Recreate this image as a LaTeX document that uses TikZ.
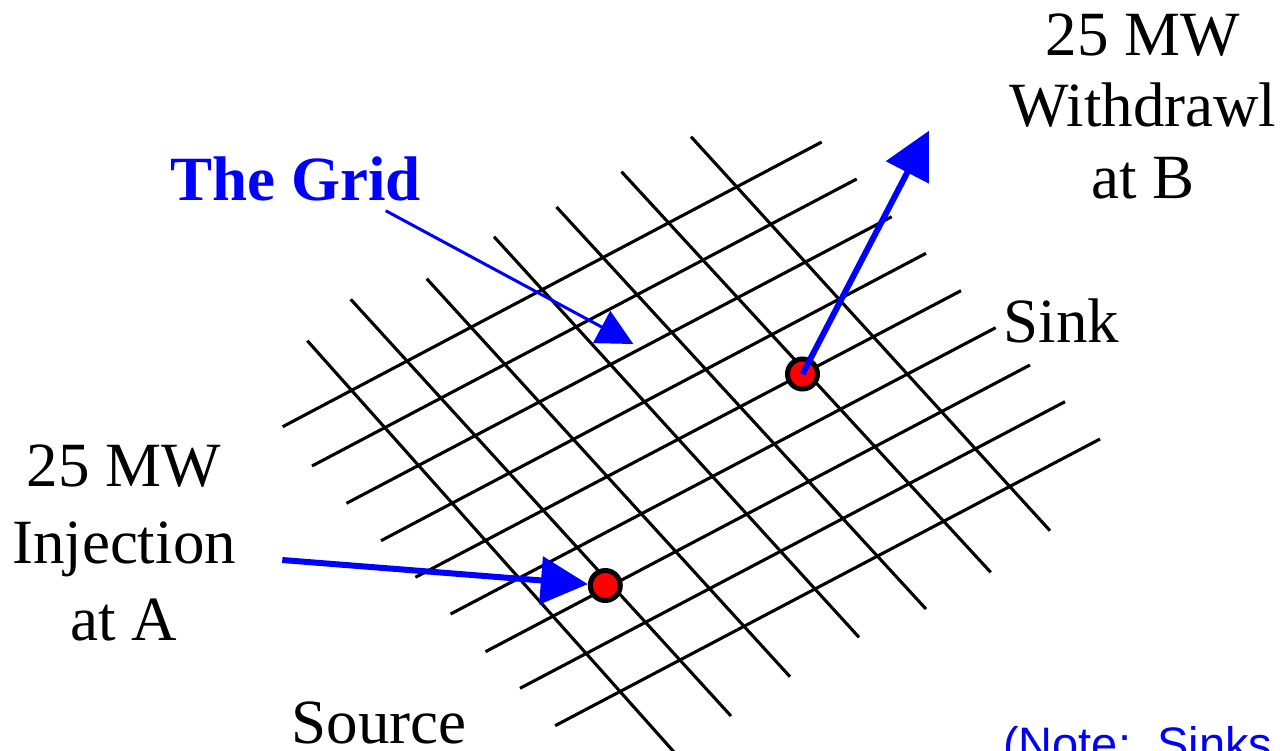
\documentclass[tikz,border=0pt]{standalone}
\usepackage{fontspec}
\setmainfont{Liberation Serif}
\newfontfamily\arialfont{Liberation Sans}
\usetikzlibrary{arrows.meta}
\definecolor{pblue}{RGB}{0,0,255}
\definecolor{pred}{RGB}{255,0,0}
\begin{document}
\begin{tikzpicture}[x=1pt,y=-1pt,
  gridline/.style={line width=3.1pt, black},
  dot/.style={circle, draw=black, line width=5pt, fill=pred, minimum size=30pt, inner sep=0pt},
  thinarrow/.style={draw=pblue, line width=3pt, -{Triangle[length=36pt,width=36pt,fill=pblue]}},
  thickarrow/.style={draw=pblue, line width=6pt, -{Triangle[length=47pt,width=47pt,fill=pblue]}},
  lbl/.style={inner sep=0pt, text=black}]
\useasboundingbox (0,0) rectangle (1283,750);
\clip (0,0) rectangle (1283,750);
\fill[white] (0,0) rectangle (1283,750);
% up-right grid lines
\foreach \xa/\ya/\xb/\yb in {282.7/426.7/821.7/142, 312/466/856.7/179, 346.5/503.3/891.7/216.7,
  381/540.7/926/253.3, 415.4/577.3/961/290.7, 450.6/614/995.7/327.7, 485.5/651.7/1030/365,
  520/688.3/1065/401.7, 555.1/725.7/1100/439}
  \draw[gridline] (\xa,\ya) -- (\xb,\yb);
% down-right grid lines
\foreach \xa/\ya/\xb/\yb in {307.3/340.7/674/752, 350.7/299.3/731/716, 426.7/278.7/790/676.7,
  494/236.7/859/637.3, 556.5/207/926/609, 621.5/171.7/990.7/572.3, 691/136.7/1050/530.7}
  \draw[gridline] (\xa,\ya) -- (\xb,\yb);
% labels
\node[lbl, anchor=base, text=pblue, font=\fontsize{63}{72}\selectfont\bfseries] (gridlbl) at (295.7,200) {The Grid};
\node[lbl, anchor=base, font=\fontsize{63}{71.7}\selectfont] (wlbl) at (1143,55)
  {\begin{tabular}[t]{@{}c@{}}25 MW\\Withdrawl\\at B\end{tabular}};
\node[lbl, anchor=base, font=\fontsize{63}{76.7}\selectfont] (ilbl) at (124,486.7)
  {\begin{tabular}[t]{@{}c@{}}25 MW\\Injection\\at A\end{tabular}};
\node[lbl, anchor=base, font=\fontsize{63}{72}\selectfont] (sinklbl) at (1061.7,342.7) {Sink};
\node[lbl, anchor=base, font=\fontsize{63}{72}\selectfont] (srclbl) at (379,743.3) {Source};
\node[lbl, anchor=base west, text=pblue, font=\arialfont\fontsize{47}{54}\selectfont] (note) at (1003,760.3) {(Note:\ \ Sinks};
% points
\coordinate (gridtail) at (385.7,210.7);
\coordinate (gridtip) at (633.3,344);
\coordinate (injtail) at (282.3,560);
\coordinate (wtip) at (929,130.7);
\draw[thinarrow] (gridtail) -- (gridtip);
\node[dot] (A) at (605.3,585.5) {};
\node[dot] (B) at (802.5,374) {};
\draw[thickarrow] (injtail) -- (A);
\draw[thickarrow] (B.center) -- (wtip);
\end{tikzpicture}
\end{document}
